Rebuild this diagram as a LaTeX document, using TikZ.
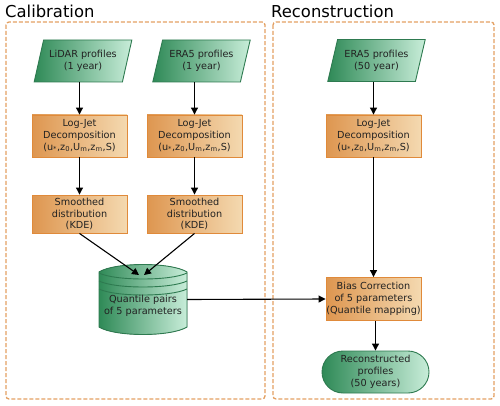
\documentclass[tikz,border=0pt]{standalone}
\usepackage{fontspec}
\setmainfont{DejaVu Sans}
\usetikzlibrary{shapes.geometric,shapes.misc,arrows.meta}
\definecolor{gdark}{HTML}{2F8A57}
\definecolor{glight}{HTML}{C8EDD9}
\definecolor{gborder}{HTML}{2E7A50}
\definecolor{odark}{HTML}{DE9650}
\definecolor{olight}{HTML}{F4D9B0}
\definecolor{oborder}{HTML}{E08A3A}
\definecolor{dashc}{HTML}{E3A062}
\definecolor{txt}{HTML}{222222}
\begin{document}
\begin{tikzpicture}[x=1pt,y=-1pt,
  every node/.style={text=txt, font=\fontsize{9.7}{11.7}\selectfont, align=center, inner sep=0pt},
  frame/.style={draw=dashc, line width=1.3pt, dash pattern=on 4pt off 2pt, rounded corners=3pt},
  title/.style={font=\fontsize{16.4}{18}\selectfont, anchor=base west, text=black},
  databox/.style={trapezium, trapezium left angle=69, trapezium right angle=111,
    trapezium stretches=true, minimum width=98pt, minimum height=42pt,
    draw=gborder, line width=0.9pt, left color=gdark, right color=glight},
  procbox/.style={rectangle, minimum width=95pt, draw=oborder, line width=0.9pt,
    left color=odark, right color=olight},
  termbox/.style={rounded rectangle, minimum width=107pt, minimum height=42pt,
    draw=gborder, line width=0.9pt, left color=gdark, right color=glight},
  conn/.style={draw=black, line width=1.1pt, -{Triangle[length=7pt,width=7pt]}}
]
\useasboundingbox (0,0) rectangle (500,406);
% frames
\draw[frame] (6,22) rectangle (265,399);
\draw[frame] (273,22) rectangle (494,399);
\node[title] (caltitle) at (5,18) {Calibration};
\node[title] (rectitle) at (271,18) {Reconstruction};

% left column
\node[databox] (lidar) at (83,61) {LiDAR profiles\\(1 year)};
\node[procbox, minimum height=42pt] (lj1) at (79.5,136) {Log-Jet\\Decomposition\\(u\textsubscript{*},z\textsubscript{0},U\textsubscript{m},z\textsubscript{m},S)};
\node[procbox, minimum height=38pt] (sm1) at (79.5,214) {Smoothed\\distribution\\(KDE)};

% middle column
\node[databox] (era1) at (201.5,61) {ERA5 profiles\\(1 year)};
\node[procbox, minimum height=42pt] (lj2) at (194.5,136) {Log-Jet\\Decomposition\\(u\textsubscript{*},z\textsubscript{0},U\textsubscript{m},z\textsubscript{m},S)};
\node[procbox, minimum height=38pt] (sm2) at (194.5,214) {Smoothed\\distribution\\(KDE)};

% cylinder (quantile pairs)
\node[minimum width=88pt, minimum height=68pt] (qp) at (143,299.5) {};
\fill[left color=gdark, right color=glight, draw=gborder, line width=0.9pt]
  (99,272) .. controls (115,262) and (171,262) .. (187,272)
  -- (187,327) .. controls (171,337) and (115,337) .. (99,327) -- cycle;
\foreach \yy in {273,281,289}
  \draw[gborder, line width=0.9pt] (99,\yy) .. controls (115,\yy+8) and (171,\yy+8) .. (187,\yy);
\node (qptext) at (143,306) {Quantile pairs\\of 5 parameters};
\coordinate (qpin1) at (139,275);
\coordinate (qpin2) at (144,275);

% right column
\node[databox] (era50) at (376.5,60.5) {ERA5 profiles\\(50 year)};
\node[procbox, minimum height=42pt] (lj3) at (373.5,136) {Log-Jet\\Decomposition\\(u\textsubscript{*},z\textsubscript{0},U\textsubscript{m},z\textsubscript{m},S)};
\node[procbox, minimum height=43pt] (bias) at (373.5,299) {Bias Correction\\of 5 parameters\\(Quantile mapping)};
\node[termbox] (recon) at (375.5,372) {Reconstructed\\profiles\\(50 years)};

% connectors
\draw[conn] (lidar.south -| lj1.north) -- (lj1.north);
\draw[conn] (lj1) -- (sm1);
\draw[conn] (era1.south -| lj2.north) -- (lj2.north);
\draw[conn] (lj2) -- (sm2);
\draw[conn] (sm1.south) -- (qpin1);
\draw[conn] (sm2.south) -- (qpin2);
\draw[conn] (qp.east) -- (bias.west);
\draw[conn] (era50.south -| lj3.north) -- (lj3.north);
\draw[conn] (lj3) -- (bias);
\draw[conn] (bias.south -| recon.north) -- (recon.north);
\end{tikzpicture}
\end{document}
